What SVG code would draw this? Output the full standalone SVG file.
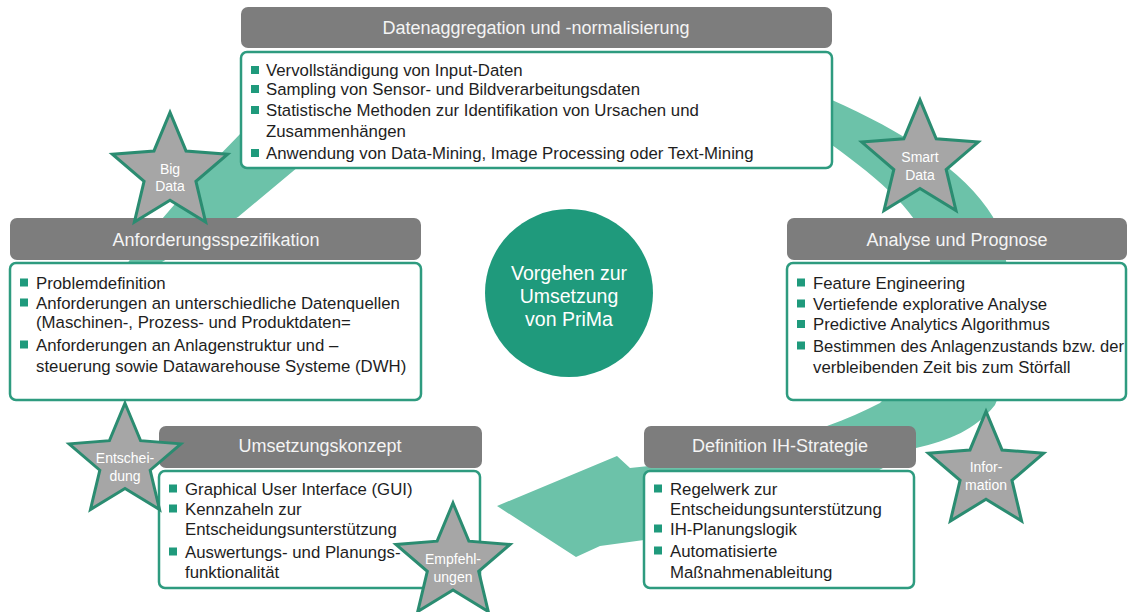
<svg xmlns="http://www.w3.org/2000/svg" xmlns:xlink="http://www.w3.org/1999/xlink" width="1132" height="612" viewBox="0 0 1132 612">
  <style>
    .hdr { fill: #7d7d7d; }
    .hdr-text { font-family: "Liberation Sans", Arial, sans-serif; font-size: 18px; fill: #f4f4f4; text-anchor: middle; }
    .body { fill: #ffffff; stroke: #2e9b7f; stroke-width: 2.5; }
    .txt { font-family: "Liberation Sans", Arial, sans-serif; font-size: 16.8px; fill: #1e1e1e; }
    .bul { fill: #1f9a7c; }
    .star { fill: #a6a6a6; stroke: #2b8c71; stroke-width: 3; stroke-linejoin: miter; }
    .star-text { font-family: "Liberation Sans", Arial, sans-serif; font-size: 14px; fill: #ffffff; text-anchor: middle; }
    .band { fill: #6cc2a9; }
    .hub { fill: #1f9a7c; }
    .hub-text { font-family: "Liberation Sans", Arial, sans-serif; font-size: 19.5px; fill: #ffffff; text-anchor: middle; }
  </style>
  <defs>
    <!-- five-pointed star, outer radius 60, inner radius 27 -->
    <path id="star5" d="M0,-60 L15.87,-21.84 L57.07,-18.54 L25.68,8.34 L35.27,48.54 L0,27 L-35.27,48.54 L-25.68,8.34 L-57.07,-18.54 L-15.87,-21.84 Z"/>
    <rect id="sq" width="8" height="8"/>
  </defs>

  <rect width="1132" height="612" fill="#ffffff"/>

  <!-- cycle arrow running clockwise behind the phase boxes -->
  <g id="connectors">
    <path class="band" d="M110,292
      C130,250 200,175 241,133
      C350,40 700,30 832,100
      C900,130 965,170 993,217
      C1015,270 1020,350 995,405
      C975,430 950,440 916,448
      C840,500 720,535 644,540
      L600,546 L576,557 L497,506 L617,456 L630,468
      C720,460 820,435 880,403
      C915,370 935,310 930,262
      C930,220 880,180 832,145
      C700,70 400,80 298,167
      L238,217 L162,262 L140,296 Z"/>
  </g>

  <!-- centre -->
  <g id="hub">
    <circle class="hub" cx="569" cy="293" r="84"/>
    <text class="hub-text" x="569" y="280">Vorgehen zur</text>
    <text class="hub-text" x="569" y="303">Umsetzung</text>
    <text class="hub-text" x="569" y="326">von PriMa</text>
  </g>

  <!-- phase: data aggregation -->
  <g id="datenaggregation">
    <rect class="hdr" x="241" y="7" width="591" height="41" rx="7"/>
    <text class="hdr-text" x="536" y="34">Datenaggregation und -normalisierung</text>
    <rect class="body" x="241" y="52" width="591" height="116" rx="6"/>
    <use href="#sq" class="bul" x="251" y="66"/>
    <text class="txt" x="266" y="76">Vervollständigung von Input-Daten</text>
    <use href="#sq" class="bul" x="251" y="85"/>
    <text class="txt" x="266" y="95">Sampling von Sensor- und Bildverarbeitungsdaten</text>
    <use href="#sq" class="bul" x="251" y="106"/>
    <text class="txt" x="266" y="116">Statistische Methoden zur Identifikation von Ursachen und</text>
    <text class="txt" x="266" y="137">Zusammenhängen</text>
    <use href="#sq" class="bul" x="251" y="149"/>
    <text class="txt" x="266" y="159">Anwendung von Data-Mining, Image Processing oder Text-Mining</text>
  </g>

  <!-- phase: requirements -->
  <g id="anforderungsspezifikation">
    <rect class="hdr" x="10" y="218" width="411" height="42" rx="7"/>
    <text class="hdr-text" x="216" y="245.5">Anforderungsspezifikation</text>
    <rect class="body" x="10" y="263" width="411" height="137" rx="6"/>
    <use href="#sq" class="bul" x="20" y="278.5"/>
    <text class="txt" x="36" y="288.5">Problemdefinition</text>
    <use href="#sq" class="bul" x="20" y="298.5"/>
    <text class="txt" x="36" y="308.5">Anforderungen an unterschiedliche Datenquellen</text>
    <text class="txt" x="36" y="328">(Maschinen-, Prozess- und Produktdaten=</text>
    <use href="#sq" class="bul" x="20" y="340.5"/>
    <text class="txt" x="36" y="350.5">Anforderungen an Anlagenstruktur und –</text>
    <text class="txt" x="36" y="371.5">steuerung sowie Datawarehouse Systeme (DWH)</text>
  </g>

  <!-- phase: analysis -->
  <g id="analyse">
    <rect class="hdr" x="787" y="218" width="340" height="42" rx="7"/>
    <text class="hdr-text" x="957" y="245.5">Analyse und Prognose</text>
    <rect class="body" x="787" y="263" width="339" height="137" rx="6"/>
    <use href="#sq" class="bul" x="797" y="278.5"/>
    <text class="txt" x="813" y="288.5">Feature Engineering</text>
    <use href="#sq" class="bul" x="797" y="299.5"/>
    <text class="txt" x="813" y="309.5">Vertiefende explorative Analyse</text>
    <use href="#sq" class="bul" x="797" y="320"/>
    <text class="txt" x="813" y="330">Predictive Analytics Algorithmus</text>
    <use href="#sq" class="bul" x="797" y="341.5"/>
    <text class="txt" x="813" y="351.5" textLength="311" lengthAdjust="spacingAndGlyphs">Bestimmen des Anlagenzustands bzw. der</text>
    <text class="txt" x="813" y="372.5">verbleibenden Zeit bis zum Störfall</text>
  </g>

  <!-- phase: maintenance strategy -->
  <g id="ih-strategie">
    <rect class="hdr" x="644" y="426" width="272" height="42" rx="7"/>
    <text class="hdr-text" x="780" y="452">Definition IH-Strategie</text>
    <rect class="body" x="644" y="471" width="270" height="117" rx="6"/>
    <use href="#sq" class="bul" x="654" y="484.5"/>
    <text class="txt" x="670" y="494.5">Regelwerk zur</text>
    <text class="txt" x="670" y="514.5">Entscheidungsunterstützung</text>
    <use href="#sq" class="bul" x="654" y="524.5"/>
    <text class="txt" x="670" y="534.5">IH-Planungslogik</text>
    <use href="#sq" class="bul" x="654" y="546.5"/>
    <text class="txt" x="670" y="556.5">Automatisierte</text>
    <text class="txt" x="670" y="577.5">Maßnahmenableitung</text>
  </g>

  <!-- phase: implementation -->
  <g id="umsetzungskonzept">
    <rect class="hdr" x="159" y="426" width="323" height="42" rx="7"/>
    <text class="hdr-text" x="320" y="452">Umsetzungskonzept</text>
    <rect class="body" x="159" y="471" width="321" height="117" rx="6"/>
    <use href="#sq" class="bul" x="169" y="484.5"/>
    <text class="txt" x="185" y="494.5">Graphical User Interface (GUI)</text>
    <use href="#sq" class="bul" x="169" y="504.5"/>
    <text class="txt" x="185" y="514.5">Kennzaheln zur</text>
    <text class="txt" x="185" y="534.5">Entscheidungsunterstützung</text>
    <use href="#sq" class="bul" x="169" y="547.5"/>
    <text class="txt" x="185" y="557.5">Auswertungs- und Planungs-</text>
    <text class="txt" x="185" y="577.5">funktionalität</text>
  </g>

  <!-- milestone stars -->
  <g id="star-big-data">
    <use href="#star5" class="star" transform="translate(170,173) scale(1.01)"/>
    <text class="star-text" x="170" y="174">Big</text>
    <text class="star-text" x="170" y="191">Data</text>
  </g>
  <g id="star-smart-data">
    <use href="#star5" class="star" transform="translate(920,161) scale(1.02)"/>
    <text class="star-text" x="920" y="162">Smart</text>
    <text class="star-text" x="920" y="180">Data</text>
  </g>
  <g id="star-information">
    <use href="#star5" class="star" transform="translate(986,472) scale(1.01)"/>
    <text class="star-text" x="986" y="472">Infor-</text>
    <text class="star-text" x="986" y="490">mation</text>
  </g>
  <g id="star-empfehlungen">
    <use href="#star5" class="star" transform="translate(453,563)"/>
    <text class="star-text" x="453" y="564">Empfehl-</text>
    <text class="star-text" x="453" y="582">ungen</text>
  </g>
  <g id="star-entscheidung">
    <use href="#star5" class="star" transform="translate(125,462) scale(0.98)"/>
    <text class="star-text" x="125" y="463">Entschei-</text>
    <text class="star-text" x="125" y="481">dung</text>
  </g>
</svg>
